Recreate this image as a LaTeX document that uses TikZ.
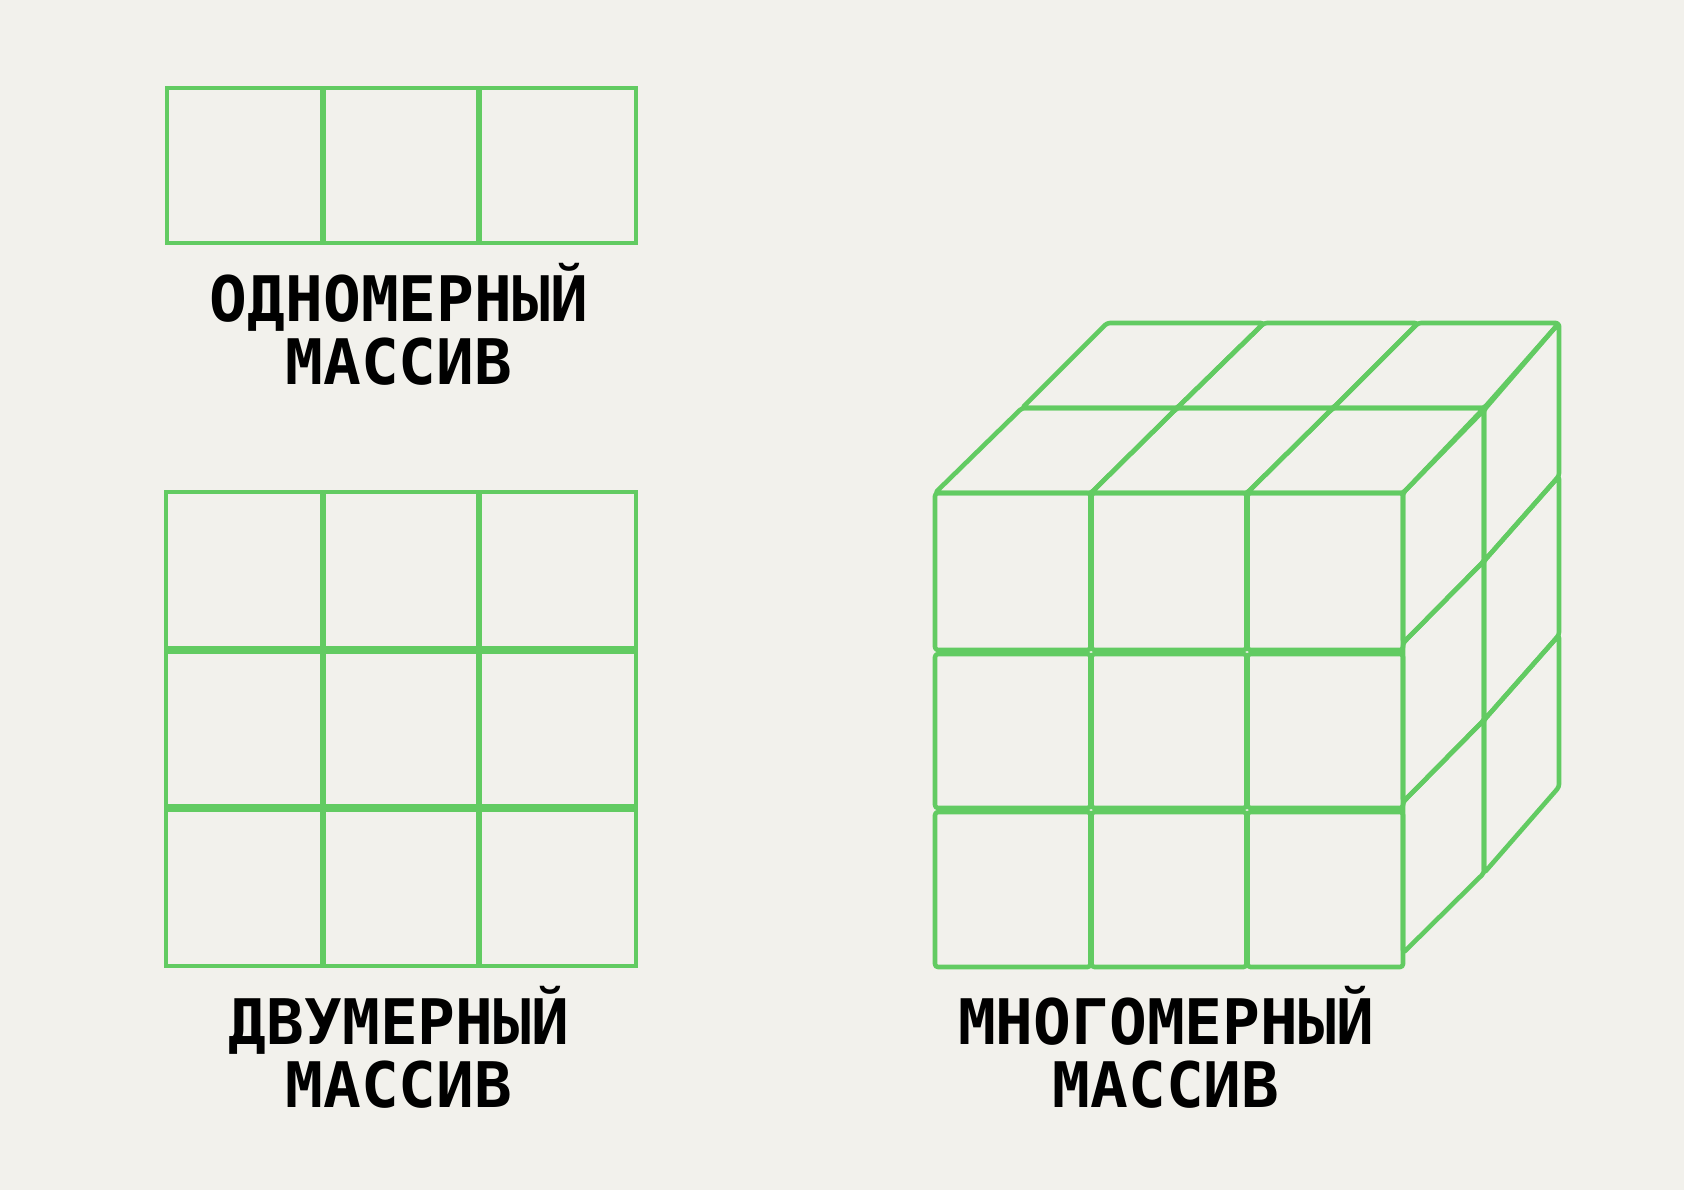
\documentclass[tikz,border=0pt]{standalone}
\usepackage{fontspec}
\usepackage{tikz}
\newfontfamily\labelfont[BoldFont={DejaVu Sans Mono Bold}]{DejaVu Sans Mono}
\definecolor{paper}{RGB}{242,241,236}
\definecolor{arraygreen}{RGB}{98,203,98}

\begin{document}
\begin{tikzpicture}[x=0.5pt, y=-0.5pt,
    cell/.style={draw=arraygreen, line width=2.3pt},
    cubecell/.style={draw=arraygreen, line width=2.3pt, rounded corners=1.5pt, line join=round},
    arraylabel/.style={font=\labelfont\bfseries\fontsize{31.4}{31.5}\selectfont, align=center, anchor=base, inner sep=0pt}]
    \fill[paper] (0,0) rectangle (1684,1190);

    % One-dimensional array
    \foreach \xa/\xb in {167/322.6, 323.4/478.6, 479.4/636} {
        \draw[cell] (\xa,88) rectangle (\xb,243);
    }
    \node[arraylabel] (label1d) at (399,384) {ОДНОМЕРНЫЙ\\МАССИВ};

    % Two-dimensional array
    \foreach \ya/\yb in {492/648, 652/806, 810/966} {
        \foreach \xa/\xb in {166/322.6, 323.4/478.6, 479.4/636} {
            \draw[cell] (\xa,\ya) rectangle (\xb,\yb);
        }
    }
    \node[arraylabel] (label2d) at (399,1107) {ДВУМЕРНЫЙ\\МАССИВ};

    % Cube: front face
    \foreach \ya/\yb in {493/650, 654/808, 812/967} {
        \foreach \xa/\xb in {935/1090.5, 1091.5/1246.5, 1247.5/1403} {
            \draw[cubecell] (\xa,\ya) rectangle (\xb,\yb);
        }
    }

    % Cube: top face
    \foreach \fa/\fb/\ma/\mb in {935/1091/1022/1177, 1091/1247/1177/1333, 1247/1403/1333/1484} {
        \draw[cubecell] (\fa,493) -- (\fb,493) -- (\mb,408) -- (\ma,408) -- cycle;
    }
    \foreach \ma/\mb/\ba/\bb in {1022/1177/1107/1264, 1177/1333/1264/1418, 1333/1484/1418/1559} {
        \draw[cubecell] (\ma,408) -- (\mb,408) -- (\bb,323) -- (\ba,323) -- cycle;
    }

    % Cube: right face
    \foreach \fa/\fb/\ma/\mb in {493/643/410/561, 643/802/561/720, 802/953/720/873} {
        \draw[cubecell] (1403,\fa) -- (1484,\ma) -- (1484,\mb) -- (1403,\fb) -- cycle;
    }
    \foreach \ma/\mb/\ba/\bb in {410/561/323/476, 561/720/476/635, 720/873/635/787} {
        \draw[cubecell] (1484,\ma) -- (1559,\ba) -- (1559,\bb) -- (1484,\mb) -- cycle;
    }
    \node[arraylabel] (labelnd) at (1166,1107) {МНОГОМЕРНЫЙ\\МАССИВ};
\end{tikzpicture}
\end{document}
